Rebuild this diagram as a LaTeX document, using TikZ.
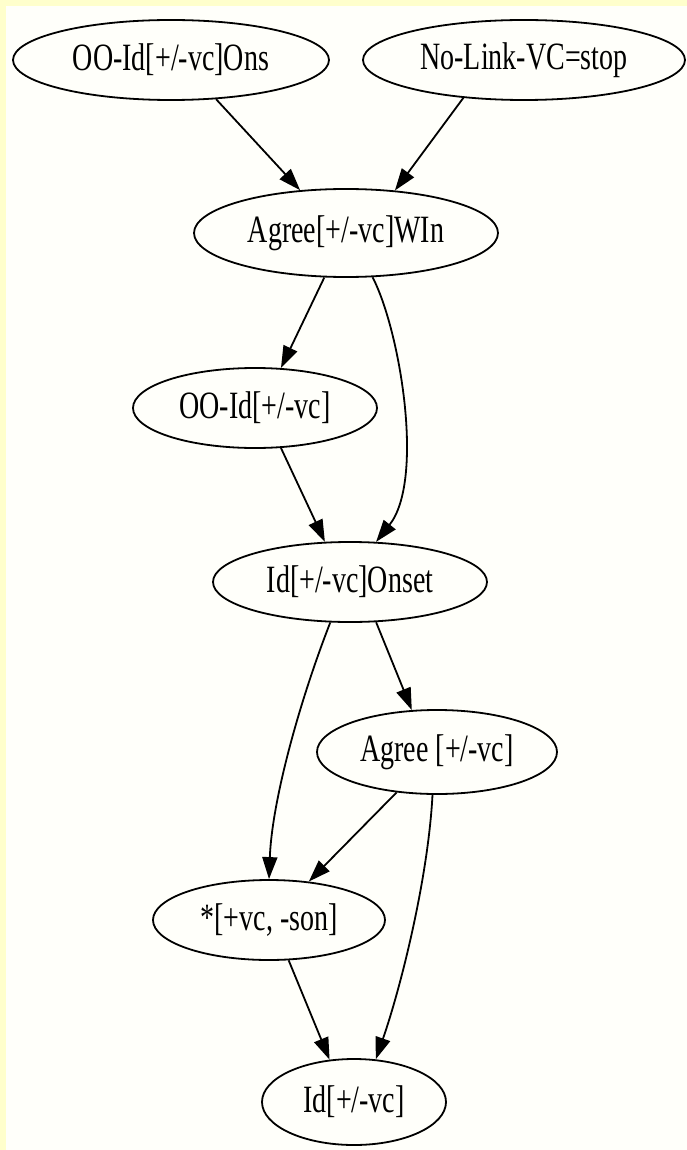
\documentclass[tikz,border=0pt]{standalone}
\usepackage{fontspec}
\setmainfont{Liberation Serif}
\usetikzlibrary{shapes.geometric,arrows.meta}
\definecolor{band}{RGB}{255,255,204}
\definecolor{paper}{RGB}{255,255,250}
\newcommand{\lbl}[1]{\scalebox{1}[1.38]{\fontsize{28}{30}\selectfont #1}}
\tikzset{
  gnode/.style={ellipse, draw, line width=1.8pt, inner sep=0pt},
  gedge/.style={line width=1.8pt, -{Triangle[length=22pt,width=15pt]}},
}
\begin{document}
\begin{tikzpicture}[x=1pt,y=-1pt]
\useasboundingbox (0,0) rectangle (687,1150);
\fill[band] (0,0) rectangle (687,1150);
\fill[paper] (6,6) rectangle (687,1150);

\node[gnode, minimum width=316pt, minimum height=80pt] (ons) at (171,60) {\lbl{OO-Id[+/-vc]Ons}};
\node[gnode, minimum width=322pt, minimum height=80pt] (nolink) at (524,60) {\lbl{No-Link-VC=stop}};
\node[gnode, minimum width=304pt, minimum height=88pt] (agwin) at (346,233) {\lbl{Agree[+/-vc]WIn}};
\node[gnode, minimum width=244pt, minimum height=80pt] (ooid) at (255,408) {\lbl{OO-Id[+/-vc]}};
\node[gnode, minimum width=274pt, minimum height=80pt] (onset) at (350,582) {\lbl{Id[+/-vc]Onset}};
\node[gnode, minimum width=240pt, minimum height=84pt] (agree) at (437,752) {\lbl{Agree [+/-vc]}};
\node[gnode, minimum width=232pt, minimum height=80pt] (star) at (269,920) {\lbl{*[+vc, -son]}};
\node[gnode, minimum width=184pt, minimum height=86pt] (id) at (354,1102) {\lbl{Id[+/-vc]}};

\draw[gedge] (ons.-41) -- (agwin.137.7);
\draw[gedge] (nolink.212) -- (agwin.41.6);
\draw[gedge] (agwin.244) -- (ooid.57.4);
\draw[gedge] (agwin.-59) .. controls (400,330) and (425,480) .. (onset.57.5);
\draw[gedge] (ooid.-57.4) -- (onset.122.5);
\draw[gedge] (onset.-57.5) -- (agree.121.3);
\draw[gedge] (onset.-116.8) .. controls (300,700) and (272,800) .. (star.90);
\draw[gedge] (agree.225.5) -- (star.44);
\draw[gedge] (agree.-96.8) .. controls (428,880) and (400,990) .. (id.63.4);
\draw[gedge] (star.-64.3) -- (id.120);
\end{tikzpicture}
\end{document}
